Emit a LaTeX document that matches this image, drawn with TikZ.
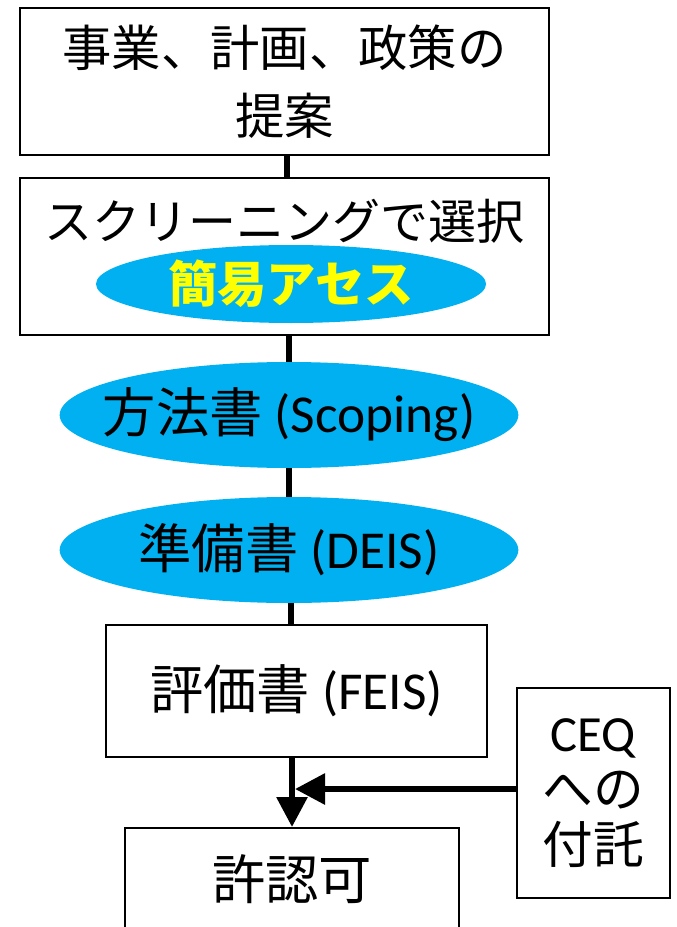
\documentclass[tikz,border=0pt]{standalone}
\usepackage{fontspec}
\setmainfont{Carlito}
\newfontfamily\jp{Noto Sans CJK JP}
\usetikzlibrary{shapes.geometric,arrows.meta}
\definecolor{skyc}{RGB}{0,176,240}
\definecolor{yel}{RGB}{255,255,0}
\begin{document}
\begin{tikzpicture}[x=0.75pt,y=-0.75pt,
  boxn/.style={draw=black,line width=1.5pt,minimum width=#1,inner sep=0pt,align=center},
  ell/.style={ellipse,fill=skyc,draw=none,inner sep=0pt},
  conn/.style={line width=3.8pt},
  arr/.style={line width=4.5pt,-{Triangle[length=22.5pt,width=22.5pt]}},
  big/.style={font=\fontsize{36}{51}\selectfont},
  bigr/.style={font=\fontsize{40}{48}\selectfont}]
\useasboundingbox (0,0) rectangle (677,927);
\clip (0,0) rectangle (677,927);
\node[boxn=396.75pt,minimum height=110.25pt,font=\fontsize{37}{51}\selectfont] (b1) at (284.5,82) {\jp 事業、計画、政策の\\\jp 提案};
\node[boxn=396.75pt,minimum height=117.75pt] (b2) at (284.5,256.5) {};
\node[big] (t2) at (284.5,221) {\jp スクリーニングで選択};
\node[ell,minimum width=292.5pt,minimum height=58.5pt,text=yel,font=\fontsize{37}{44}\selectfont\bfseries] (e1) at (291,284) {\jp 簡易アセス};
\node[ell,minimum width=344pt,minimum height=79.5pt] (e2) at (289,415) {};
\node[bigr] (t3) at (289,415) {{\jp 方法書} (Scoping)};
\node[ell,minimum width=344pt,minimum height=79.5pt] (e3) at (289,550) {};
\node[bigr] (t4) at (289,550) {{\jp 準備書} (DEIS)};
\node[boxn=285.75pt,minimum height=99pt,bigr] (b4) at (296.5,691) {{\jp 評価書} (FEIS)};
\node[boxn=114.75pt,minimum height=157.5pt,font=\fontsize{38}{42}\selectfont] (ceq) at (593.5,793) {CEQ\\\jp への\\\jp 付託};
\node[boxn=250.5pt,minimum height=108pt] (b5) at (292,900) {};
\node[bigr] (t5) at (292,879) {\jp 許認可};
\coordinate (j) at (295,789);
\draw[conn] (b1.south -| 287,0) -- (b2.north -| 287,0);
\draw[conn] (b2.south -| e2) -- (e2.north);
\draw[conn] (e2.south) -- (e3.north);
\draw[conn] (e3.south -| 291,0) -- (b4.north -| 291,0);
\draw[arr] (b4.south -| b5) -- (b5.north);
\draw[arr] (ceq.west |- j) -- (j);
\end{tikzpicture}
\end{document}
